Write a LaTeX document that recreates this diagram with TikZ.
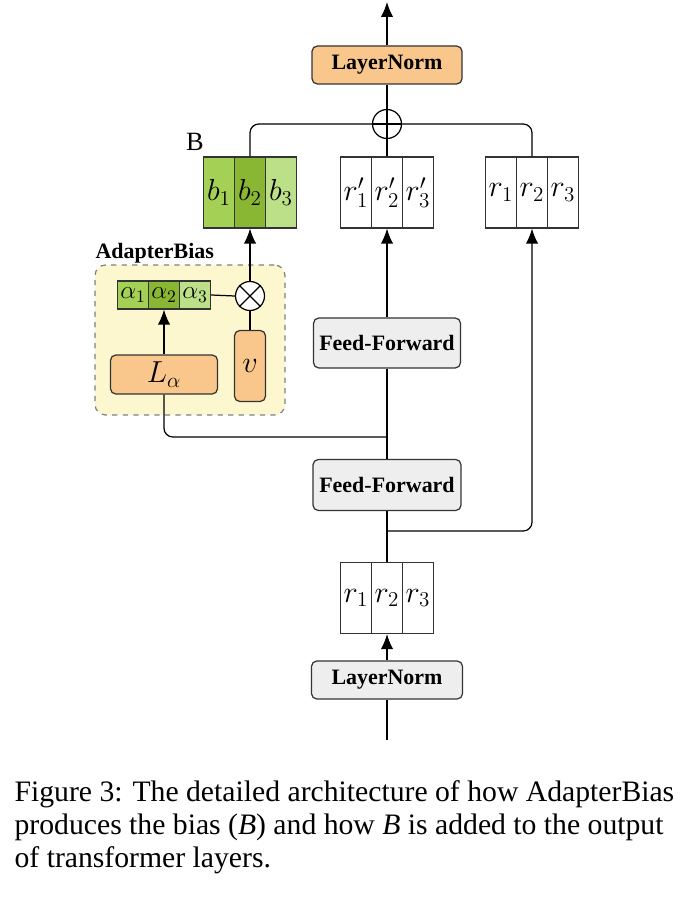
\documentclass[tikz,border=0pt]{standalone}
\usepackage{fontspec}
\setmainfont{Liberation Serif}
\usetikzlibrary{arrows.meta}
\definecolor{lnorange}{HTML}{F9C78C}
\definecolor{ffgray}{HTML}{EEEEEE}
\definecolor{adyellow}{HTML}{FDF7CF}
\definecolor{gone}{HTML}{A4D056}
\definecolor{gtwo}{HTML}{8AB733}
\definecolor{gthree}{HTML}{BBE087}
\tikzset{
  vcell/.style={draw=black!80, minimum width=0.62cm, minimum height=1.42cm, inner sep=0pt, font=\fontsize{17.28}{19}\selectfont},
  acell/.style={vcell, minimum height=0.56cm, font=\fontsize{14.4}{16}\selectfont},
  block/.style={draw=black!80, rounded corners=3pt, inner sep=0pt, font=\fontsize{12.5}{15}\selectfont\bfseries},
  opnode/.style={draw, circle, minimum size=0.58cm, inner sep=0pt, fill=white},
  arr/.style={-{Latex[length=8.5pt,width=7pt]}},
  captxt/.style={anchor=base west, inner sep=0pt, font=\fontsize{16.9}{19}\selectfont}
}
\begin{document}
\begin{tikzpicture}[x=0.02cm, y=-0.02cm, line width=0.7pt]
\useasboundingbox (0,0) rectangle (686,898);
% adapter box in the back
\node[draw=gray, dashed, fill=adyellow, rounded corners=6pt, minimum width=3.8cm, minimum height=3cm] (adbox) at (190,340) {};
\node[anchor=base west, inner sep=0pt, font=\fontsize{12.5}{15}\selectfont\bfseries] (adlabel) at (95,258) {AdapterBias};
% top part
\node[block, fill=lnorange, minimum width=3cm, minimum height=0.76cm] (lntop) at (387,65) {LayerNorm};
\node[opnode] (add) at (387,124) {};
\draw (add.north) -- (add.south) (add.west) -- (add.east);
\foreach \i/\x/\c in {1/219/gone,2/250/gtwo,3/281/gthree}
  \node[vcell, fill=\c] (b\i) at (\x,192.5) {$b_\i$};
\foreach \i/\x in {1/356,2/387,3/418}
  \node[vcell] (rp\i) at (\x,192.5) {$r'_\i$};
\foreach \i/\x in {1/501,2/532,3/563}
  \node[vcell] (r\i) at (\x,192.5) {$r_\i$};
\node[font=\fontsize{15}{18}\selectfont] (blabel) at (195,142) {B};
% AdapterBias
\foreach \i/\x/\c in {1/133/gone,2/164/gtwo,3/195/gthree}
  \node[acell, fill=\c] (a\i) at (\x,295) {$\alpha_\i$};
\node[opnode] (mul) at (250,296) {};
\draw (mul.45) -- (mul.225) (mul.135) -- (mul.315);
\node[block, fill=lnorange, minimum width=0.62cm, minimum height=1.42cm, font=\fontsize{17.28}{19}\selectfont] (v) at (250,366) {$v$};
\node[block, fill=lnorange, minimum width=2.14cm, minimum height=0.78cm, font=\fontsize{17.28}{19}\selectfont] (La) at (164,374.5) {$L_\alpha$};
% main column
\node[block, fill=ffgray, minimum width=2.94cm, minimum height=1cm] (ffu) at (387,343) {Feed-Forward};
\node[block, fill=ffgray, minimum width=2.96cm, minimum height=1.02cm] (ffl) at (387,485) {Feed-Forward};
\foreach \i/\x in {1/356,2/387,3/418}
  \node[vcell] (rb\i) at (\x,598) {$r_\i$};
\node[block, fill=ffgray, minimum width=3.02cm, minimum height=0.76cm] (lnbot) at (387,680) {LayerNorm};
\coordinate (out) at (387,2);
\coordinate (in) at (387,740);
\coordinate (j1) at (387,437);
\coordinate (j2) at (387,531);
% connectors
\draw[arr] (lntop.north) -- (out);
\draw (add.north) -- (lntop.south);
\draw (rp2.north) -- (add.south);
\draw[rounded corners=5pt] (b2.north) |- (add.west);
\draw[rounded corners=5pt] (r2.north) |- (add.east);
\draw[arr] (mul.north) -- (b2.south);
\draw (a3.east) -- (mul.west);
\draw (v.north) -- (mul.south);
\draw[arr] (La.north) -- (a2.south);
\draw[rounded corners=5pt] (La.south) |- (j1);
\draw[arr] (ffu.north) -- (rp2.south);
\draw (ffl.north) -- (ffu.south);
\draw (rb2.north) -- (ffl.south);
\draw[arr, rounded corners=5pt] (j2) -| (r2.south);
\draw[arr] (lnbot.north) -- (rb2.south);
\draw (in) -- (lnbot.south);
% caption
\node[captxt] (cap1) at (14,801) {Figure 3: The detailed architecture of how AdapterBias};
\node[captxt] (cap2) at (14,834) {produces the bias (\textit{B}) and how \textit{B} is added to the output};
\node[captxt] (cap3) at (14,867) {of transformer layers.};
\end{tikzpicture}
\end{document}
